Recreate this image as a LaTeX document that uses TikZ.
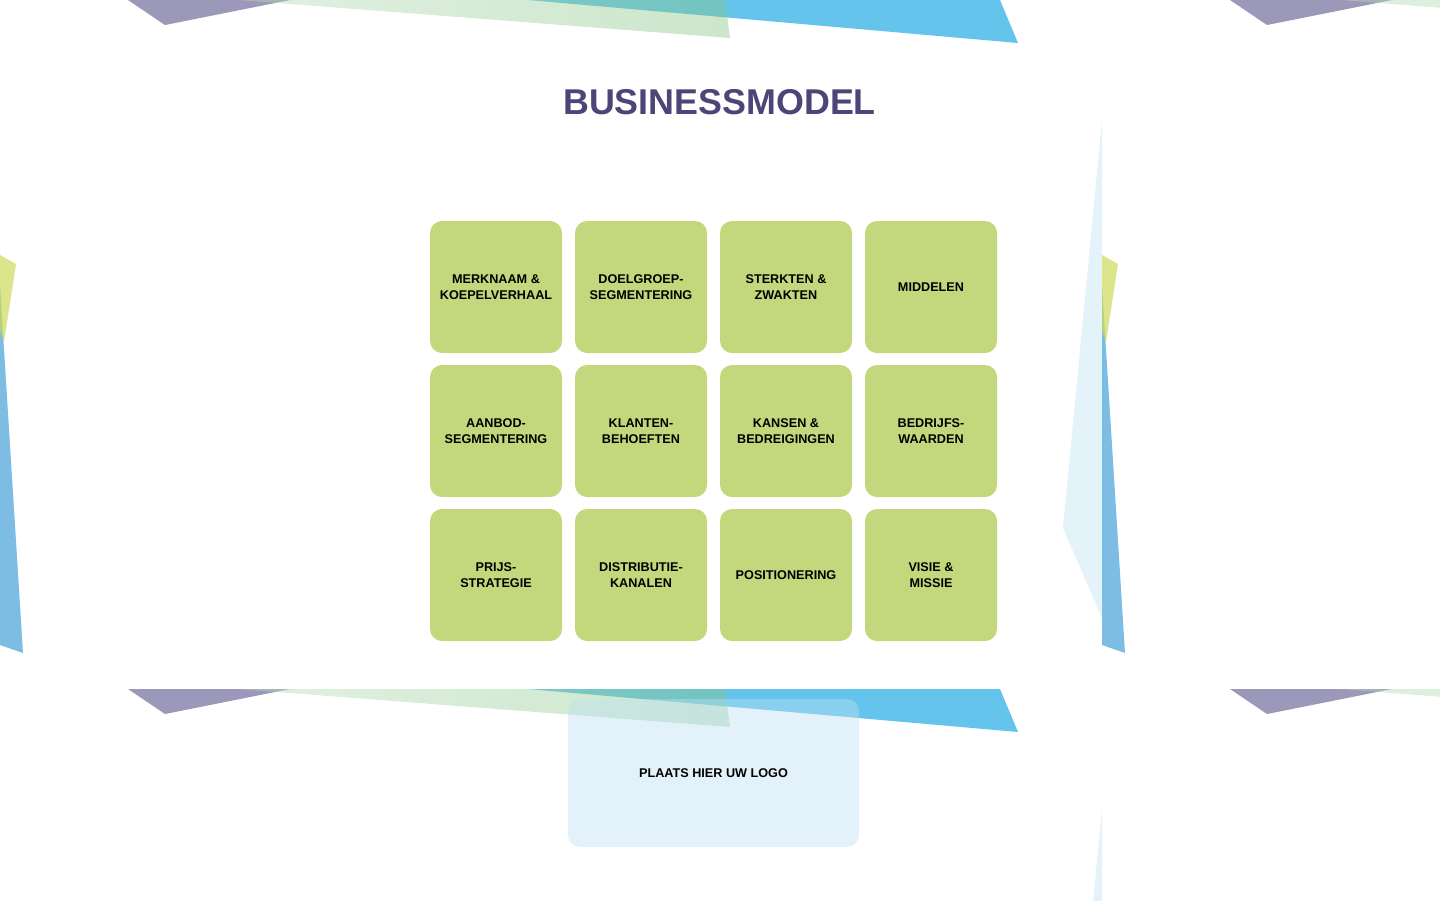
\documentclass[tikz,border=0pt]{standalone}
\usepackage{fontspec}
\setmainfont{Liberation Sans}

\definecolor{titlepurple}{RGB}{75,70,119}
\definecolor{tilegreen}{RGB}{195,216,124}
\definecolor{lavender}{RGB}{156,152,186}
\definecolor{skyblue}{RGB}{100,196,236}
\definecolor{leafdark}{RGB}{134,196,134}
\definecolor{leaflight}{RGB}{185,222,185}
\definecolor{paleblue}{RGB}{228,243,250}
\definecolor{lemon}{RGB}{206,219,88}
\definecolor{stripblue}{RGB}{125,189,227}
\definecolor{logoblue}{RGB}{190,225,245}

\tikzset{
  tile/.style={fill=tilegreen, rounded corners=6mm, minimum width=66mm,
    minimum height=66mm, align=center, text=black,
    font=\fontsize{18}{22.7}\selectfont\bfseries},
}

\begin{document}
\begin{tikzpicture}[x=0.5mm,y=-0.5mm]
\clip (0,0) rectangle (1440,900);
\fill[white] (0,0) rectangle (1440,900);

% repeated slide decoration
\foreach \dx in {-1102,0,1102} {
  \foreach \dy in {0,689} {
    \begin{scope}[shift={(\dx,\dy)}]
      \fill[lavender] (128,0) -- (165,25) -- (290,0) -- cycle;
      \fill[skyblue] (528,0) -- (1018,43) -- (1000,0) -- cycle;
      \shade[left color=leaflight, right color=leafdark, fill opacity=0.42]
        (238,0) -- (730,38) -- (725,0) -- cycle;
      \fill[paleblue] (1102,120) -- (1063,528) -- (1102,618) -- cycle;
      \fill[stripblue] (1102,285) -- (1125,653) -- (1102,645) -- cycle;
      \fill[lemon, fill opacity=0.7] (1102,255) -- (1118,264) -- (1106,342) -- (1102,330) -- cycle;
    \end{scope}
  }
}

\node[text=titlepurple, font=\fontsize{51}{60}\selectfont\bfseries] (title) at (719.5,102) {BUSINESSMODEL};

\node[tile] (merk) at (496,287) {MERKNAAM \&\\KOEPELVERHAAL};
\node[tile] (doel) at (641,287) {DOELGROEP-\\SEGMENTERING};
\node[tile] (sterk) at (786,287) {STERKTEN \&\\ZWAKTEN};
\node[tile] (midd) at (931,287) {MIDDELEN};

\node[tile] (aanbod) at (496,431) {AANBOD-\\SEGMENTERING};
\node[tile] (klant) at (641,431) {KLANTEN-\\BEHOEFTEN};
\node[tile] (kans) at (786,431) {KANSEN \&\\BEDREIGINGEN};
\node[tile] (bedr) at (931,431) {BEDRIJFS-\\WAARDEN};

\node[tile] (prijs) at (496,575) {PRIJS-\\STRATEGIE};
\node[tile] (distr) at (641,575) {DISTRIBUTIE-\\KANALEN};
\node[tile] (pos) at (786,575) {POSITIONERING};
\node[tile] (visie) at (931,575) {VISIE \&\\MISSIE};

\node[fill=logoblue, fill opacity=0.42, text opacity=1, rounded corners=6mm,
  minimum width=145.5mm, minimum height=74mm, text=black,
  font=\fontsize{18}{22.7}\selectfont\bfseries] (logo) at (713.5,773) {PLAATS HIER UW LOGO};
\end{tikzpicture}
\end{document}
